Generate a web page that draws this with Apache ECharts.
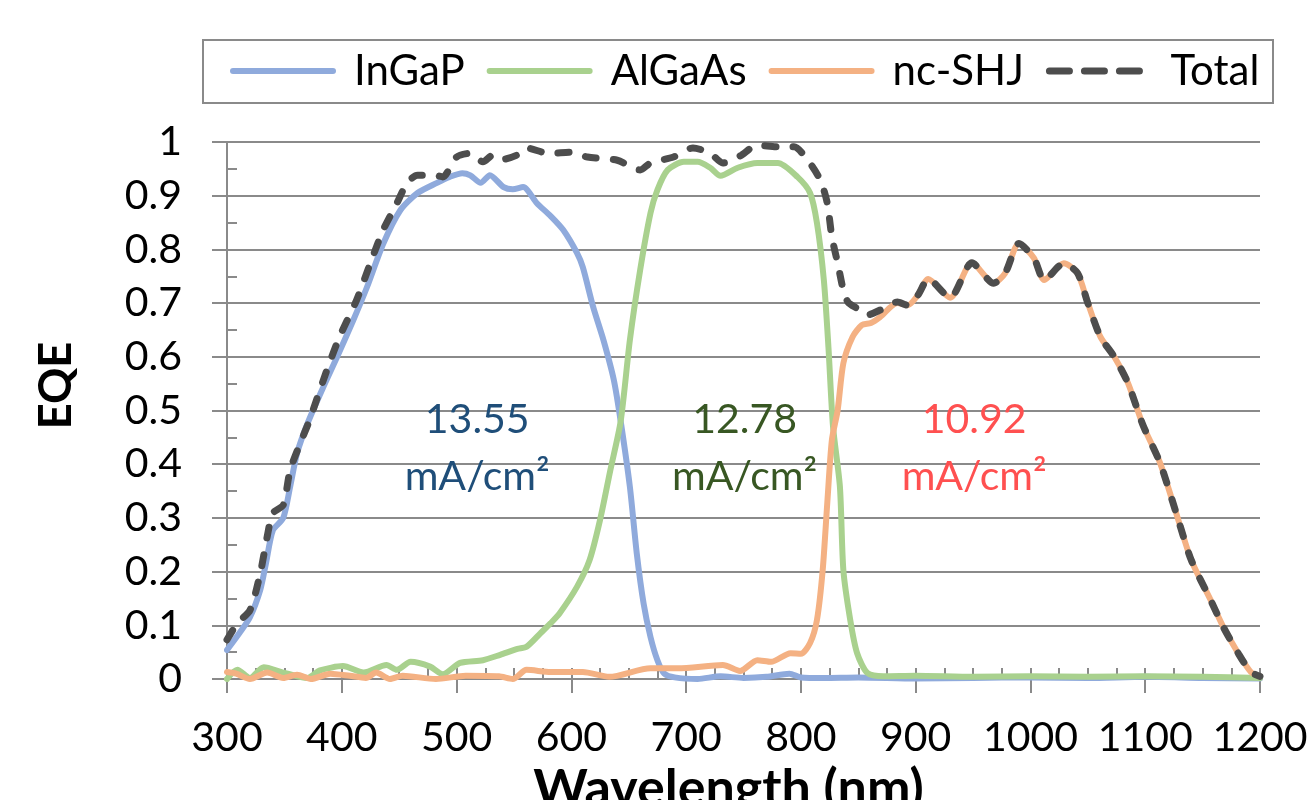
<!DOCTYPE html>
<html>
<head>
<meta charset="utf-8">
<script src="https://cdn.jsdelivr.net/npm/echarts@6/dist/echarts.min.js"></script>
<style>
html,body{margin:0;padding:0;background:#fff;}
#chart{width:1307px;height:800px;}
</style>
</head>
<body>
<div id="chart"></div>
<script>
// ---- Data ----
const seriesNames = ['InGaP', 'AlGaAs', 'nc-SHJ', 'Total'];

const ingapWl = [300,311,320,329,334,340,349,355,361,370,384,396,410,422,436,451,466,483,494,505,512,521,529,541,549,558,570,582,593,605,610,619,628,637,643,651,657,663,669,675,681,690,710,730,750,770,790,800,820,850,900,950,1000,1050,1100,1150,1200];
const ingapEqe = [.054,.086,.115,.166,.216,.277,.30,.358,.42,.475,.544,.60,.668,.73,.81,.873,.905,.924,.935,.942,.938,.924,.938,.916,.912,.916,.886,.862,.836,.793,.767,.693,.631,.557,.48,.358,.234,.14,.078,.035,.01,.003,.0,.005,.002,.004,.01,.003,.002,.003,.001,.002,.003,.002,.004,.002,.001];

const algaasWl = [300,309,320,332,349,370,381,401,419,439,448,460,477,488,503,523,538,553,561,573,582,590,605,616,625,634,643,651,660,669,675,684,698,710,721,730,745,762,780,797,808,814,820,824,828,834,837,843,849,858,872,900,950,1000,1050,1100,1150,1200];
const algaasEqe = [.0,.017,.002,.022,.012,.002,.016,.024,.012,.026,.017,.032,.023,.009,.03,.035,.045,.056,.06,.085,.104,.123,.172,.222,.296,.389,.48,.631,.762,.868,.911,.948,.963,.963,.952,.937,.952,.961,.961,.935,.905,.849,.743,.618,.47,.358,.203,.11,.048,.011,.005,.006,.004,.005,.004,.005,.004,.002];

const ncshjWl = [300,308,320,335,349,361,373,390,407,421,430,442,453,482,508,537,549,561,582,610,633,669,693,732,747,762,774,791,800,808,814,819,823,827,832,837,845,853,861,869,884,893,902,911,930,949,968,978,990,1003,1012,1029,1041,1050,1061,1073,1085,1098,1113,1128,1140,1157,1168,1181,1192,1200];
const ncshjEqe = [.013,.01,.0,.012,.002,.008,.0,.01,.006,.002,.012,.0,.006,.0,.006,.005,.0,.017,.013,.013,.004,.02,.02,.026,.015,.035,.032,.048,.047,.067,.11,.203,.328,.445,.5,.588,.637,.659,.663,.674,.70,.696,.715,.745,.71,.775,.737,.756,.811,.784,.743,.774,.756,.70,.637,.60,.551,.473,.402,.302,.222,.147,.097,.048,.013,.005];

const totalWl = [300,309,320,329,335,340,349,355,364,372,375,387,398,413,425,436,448,457,466,481,488,500,512,523,532,541,553,561,575,582,599,614,640,660,669,689,706,721,732,747,762,780,794,806,817,823,827,832,837,841,849,858,869,884,893,902,911,930,949,968,978,990,1003,1012,1029,1041,1050,1061,1073,1085,1098,1113,1128,1140,1157,1168,1181,1192,1200];
const totalEqe = [.073,.104,.128,.197,.265,.309,.324,.389,.44,.482,.501,.575,.637,.706,.775,.836,.886,.924,.938,.938,.935,.972,.979,.963,.976,.968,.976,.989,.981,.979,.981,.972,.966,.948,.961,.972,.989,.979,.961,.974,.994,.991,.991,.966,.929,.886,.823,.775,.724,.702,.69,.678,.687,.702,.696,.715,.745,.71,.775,.737,.756,.811,.784,.743,.774,.756,.70,.637,.60,.551,.473,.402,.302,.222,.147,.097,.048,.013,.005];

// current-density labels: [wavelength, EQE] anchor of each two-line label
const annotations = [
  { wl: 518, eqeTop: 0.482, eqeBottom: 0.376, top: '13.55', bottom: 'mA/cm²', color: '#1f4e79' },
  { wl: 751, eqeTop: 0.482, eqeBottom: 0.376, top: '12.78', bottom: 'mA/cm²', color: '#385723' },
  { wl: 951, eqeTop: 0.482, eqeBottom: 0.376, top: '10.92', bottom: 'mA/cm²', color: '#ff5050' }
];

const xMin = 300, xMax = 1200, xStep = 100, xMinorStep = 25;
const yMin = 0, yMax = 1, yStep = 0.1, yMinorStep = 0.05;

function zip(a, b) { return a.map((x, i) => [x, b[i]]); }

const FONT = 'Lato, "Open Sans", sans-serif';
const GRAY = '#8a8a8a';
const FS = 41;

const chart = echarts.init(document.getElementById('chart'), null, { renderer: 'canvas' });

const colors = ['#8faadc', '#a9d18e', '#f4b183', '#4d4d4d'];
const dataSets = [zip(ingapWl, ingapEqe), zip(algaasWl, algaasEqe), zip(ncshjWl, ncshjEqe), zip(totalWl, totalEqe)];

function lineStyleFor(i) {
  return i === 3
    ? { color: colors[i], width: 7, type: [11, 17], cap: 'round', join: 'round' }
    : { color: colors[i], width: 6, cap: 'round', join: 'round' };
}

const series = seriesNames.map((name, i) => ({
  name,
  type: 'line',
  data: dataSets[i],
  showSymbol: false,
  symbol: 'none',
  smooth: 0.25,
  z: 2 + i,
  lineStyle: lineStyleFor(i),
  itemStyle: { color: colors[i] }
}));

const legendData = seriesNames.map((name, i) => ({
  name,
  itemStyle: { opacity: 0 },
  lineStyle: i === 3
    ? { color: colors[i], width: 7, type: [20, 15], cap: 'round' }
    : { color: colors[i], width: 6, cap: 'round' }
}));

const graphics = [
  { type: 'rect', shape: { x: 203, y: 40, width: 1070, height: 63 }, style: { fill: 'none', stroke: GRAY, lineWidth: 2 }, z: 0 }
];

const option = {
  animation: false,
  backgroundColor: '#fff',
  color: colors,
  grid: { left: 227, right: 47, top: 142, bottom: 121, containLabel: false, outerBoundsMode: 'none' },
  legend: {
    data: legendData,
    left: 230,
    top: 49,
    padding: 0,
    itemWidth: 100,
    itemHeight: 14,
    itemGap: 22,
    itemStyle: { opacity: 0 },
    textStyle: { fontFamily: FONT, fontSize: 42, color: '#000', padding: [0, 0, 0, 16], lineHeight: 44 }
  },
  xAxis: [
    {
      type: 'value', min: xMin, max: xMax, interval: xStep, position: 'bottom',
      name: 'Wavelength (nm)', nameLocation: 'middle', nameGap: 74,
      nameTextStyle: { fontFamily: FONT, fontSize: 52, fontWeight: 'bold', color: '#000', padding: [0, 30, 0, 0] },
      axisLine: { show: true, onZero: false, lineStyle: { color: GRAY, width: 2 } },
      axisTick: { show: true, inside: false, length: 14, lineStyle: { color: GRAY, width: 2 } },
      axisLabel: { fontFamily: FONT, fontSize: FS, color: '#000', margin: 38, formatter: v => String(v) },
      splitLine: { show: false }
    },
    {
      type: 'value', min: xMin, max: xMax, interval: xMinorStep, position: 'bottom',
      axisLine: { show: false },
      axisTick: { show: true, inside: true, length: 11, lineStyle: { color: GRAY, width: 2 } },
      axisLabel: { show: false },
      splitLine: { show: false }
    }
  ],
  yAxis: [
    {
      type: 'value', min: yMin, max: yMax, interval: yStep, position: 'left',
      name: 'EQE', nameLocation: 'middle', nameGap: 148, nameRotate: 90,
      nameTextStyle: { fontFamily: FONT, fontSize: 45, fontWeight: 'bold', color: '#000', padding: [0, 0, 0, 50] },
      axisLine: { show: true, lineStyle: { color: GRAY, width: 2 } },
      axisTick: { show: true, inside: false, length: 15, lineStyle: { color: GRAY, width: 2 } },
      axisLabel: { fontFamily: FONT, fontSize: FS, color: '#000', margin: 45,
        formatter: v => (Math.round(v * 10) / 10).toString() },
      splitLine: { show: true, lineStyle: { color: GRAY, width: 2 } }
    },
    {
      type: 'value', min: yMin, max: yMax, interval: yMinorStep, position: 'left',
      axisLine: { show: false },
      axisTick: { show: true, inside: true, length: 10, lineStyle: { color: GRAY, width: 2 } },
      axisLabel: { show: false },
      splitLine: { show: false }
    }
  ],
  series,
  graphic: graphics
};

chart.setOption(option);

// annotations placed through the chart's own scale
const annGraphics = [];
annotations.forEach(a => {
  const p1 = chart.convertToPixel({ xAxisIndex: 0, yAxisIndex: 0 }, [a.wl, a.eqeTop]);
  const p2 = chart.convertToPixel({ xAxisIndex: 0, yAxisIndex: 0 }, [a.wl, a.eqeBottom]);
  annGraphics.push({ type: 'text', x: p1[0], y: p1[1], z: 10,
    style: { text: a.top, fill: a.color, font: FS + 'px ' + FONT, textAlign: 'center', textVerticalAlign: 'middle' } });
  annGraphics.push({ type: 'text', x: p2[0], y: p2[1], z: 10,
    style: { text: a.bottom, fill: a.color, font: FS + 'px ' + FONT, textAlign: 'center', textVerticalAlign: 'middle' } });
});
chart.setOption({ graphic: graphics.concat(annGraphics) });
</script>
</body>
</html>
